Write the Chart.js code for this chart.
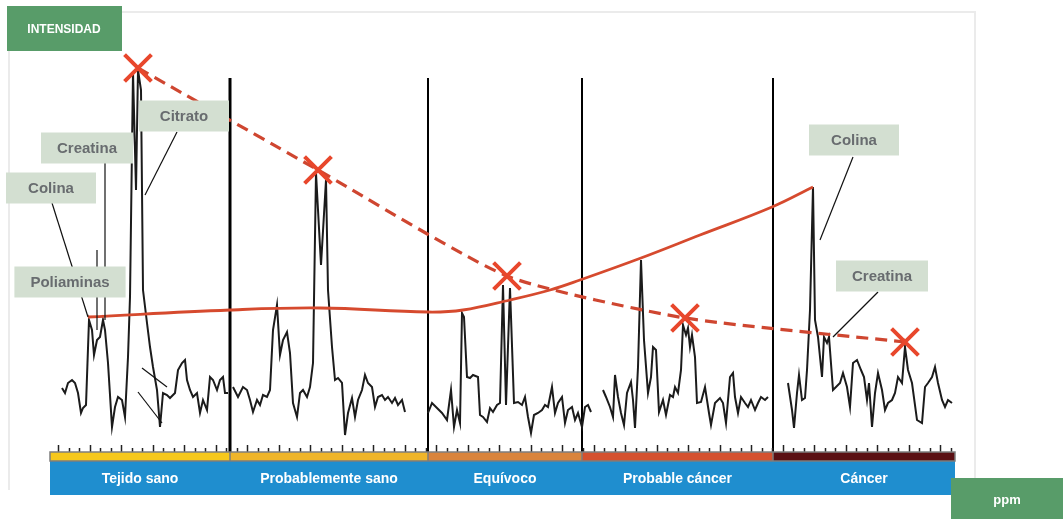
<!DOCTYPE html>
<html>
<head>
<meta charset="utf-8">
<script src="https://cdn.jsdelivr.net/npm/chart.js@4.4.1/dist/chart.umd.min.js"></script>
<style>
  html, body { margin: 0; padding: 0; background: #fff; }
  canvas { display: block; }
</style>
</head>
<body>
<canvas id="c" width="1063" height="519"></canvas>
<script>
// espectro: [posición, intensidad]
const tejidoSano = [[62,64],[65,59],[68,69],[72,72],[75,69],[78,59],[81,39],[83,44],[86,47],[89,132],[92,122],[94,97],[97,112],[100,115],[103,132],[105,122],[108,89],[112,25],[115,45],[118,55],[122,52],[125,35],[128,95],[130,155],[133,380],[136,262],[138,382],[141,362],[143,162],[147,129],[150,105],[153,85],[157,62],[160,25],[163,59],[167,57],[170,54],[175,59],[178,82],[182,89],[185,92],[187,72],[190,62],[193,55],[197,59],[200,39],[203,52],[207,42],[210,75],[213,72],[217,62],[220,72],[223,75],[225,59],[228,59]];
const probSano = [[233,65],[238,55],[243,65],[247,62],[250,52],[253,40],[257,52],[260,47],[263,57],[267,55],[270,62],[273,122],[277,147],[280,97],[283,112],[287,120],[290,99],[293,49],[297,35],[300,59],[303,62],[307,55],[310,65],[313,89],[316,279],[321,187],[326,272],[328,162],[332,105],[335,72],[338,74],[342,69],[345,17],[348,39],[352,54],[355,35],[358,52],[362,62],[365,77],[368,69],[372,65],[375,45],[378,55],[382,57],[385,52],[388,55],[392,49],[395,54],[398,47],[402,52],[405,40]];
const equivoco = [[428,39],[432,49],[437,44],[442,39],[447,32],[451,62],[454,25],[457,42],[460,29],[462,139],[464,135],[467,75],[470,74],[473,77],[478,75],[480,37],[483,35],[487,30],[490,44],[493,40],[497,47],[500,49],[503,167],[506,47],[510,164],[514,49],[518,50],[522,47],[525,55],[528,35],[531,19],[534,37],[538,39],[542,42],[545,47],[548,45],[552,65],[555,39],[558,49],[562,55],[565,29],[568,42],[572,45],[575,32],[578,39],[582,25],[585,45],[588,47],[591,40]];
const probCancer = [[603,62],[606,55],[610,45],[613,35],[615,77],[618,55],[621,39],[624,27],[627,59],[631,70],[633,52],[635,24],[638,85],[641,192],[644,112],[648,59],[651,75],[653,105],[656,102],[659,40],[663,52],[666,37],[670,57],[673,55],[675,65],[678,59],[681,82],[683,127],[686,117],[688,124],[690,105],[692,117],[695,95],[697,49],[701,50],[705,65],[709,39],[711,27],[715,49],[720,54],[723,49],[726,29],[730,75],[733,79],[735,55],[738,39],[741,55],[745,49],[748,45],[751,52],[755,42],[758,49],[761,55],[765,52],[768,55]];
const cancer = [[788,69],[792,42],[794,24],[797,59],[799,77],[802,52],[805,54],[807,82],[810,142],[813,265],[815,132],[818,115],[822,75],[824,115],[827,109],[829,115],[833,62],[836,65],[840,69],[843,79],[847,65],[850,45],[853,89],[857,92],[861,82],[864,75],[867,52],[869,69],[872,25],[875,59],[878,79],[882,62],[885,42],[888,49],[892,52],[895,59],[898,75],[902,69],[905,105],[908,82],[912,69],[917,32],[922,29],[925,65],[928,69],[932,75],[935,85],[938,69],[942,52],[945,45],[948,52],[952,49]];

// picos marcados con X (línea discontinua) y curva continua
const xPeaks = [[138,384],[318,282],[507,176],[685,134],[905,110]];
const curva = [[88,135],[230,142],[320,144],[428,140],[463,142],[510,152],[550,162],[580,172],[641,194],[700,217],[772,245],[813,265]];

// zonas
const zonas = ['Tejido sano', 'Probablemente sano', 'Equívoco', 'Probable cáncer', 'Cáncer'];
const zonaBordes = [50, 230, 428, 582, 773, 955];
const zonaColores = ['#f6c81c', '#efb52a', '#d9843c', '#d4512f', '#5a1013'];

// etiquetas: texto, centro, inicio y fin del puntero
const etiquetas = ['Colina', 'Creatina', 'Citrato', 'Poliaminas', 'Colina', 'Creatina'];
const etiquetaPos = [[51,264],[87,304],[184,336],[70,170],[854,312],[882,176]];
const punteros = [[[52,249],[88,135]], [[105,289],[105,132]], [[177,320],[145,257]], [[97,202],[97,122]], [[853,295],[820,212]], [[878,160],[833,115]]];
const marcasExtra = [[[142,84],[167,65]], [[138,60],[162,29]]];

const toPts = a => a.map(p => ({x: p[0], y: p[1]}));
let espectro = [];
[tejidoSano, probSano, equivoco, probCancer, cancer].forEach((seg, i) => {
    if (i > 0) espectro.push({x: seg[0][0] - 1, y: null});
    espectro = espectro.concat(toPts(seg));
});

const FONT = '"Liberation Sans", Arial, sans-serif';

const decor = {
    id: 'decor',
    beforeDraw(chart) {
        const ctx = chart.ctx;
        ctx.save();
        ctx.fillStyle = '#fff';
        ctx.fillRect(0, 0, chart.width, chart.height);
        // marco tenue
        ctx.strokeStyle = '#ebebeb'; ctx.lineWidth = 2;
        ctx.beginPath(); ctx.moveTo(9, 490); ctx.lineTo(9, 12); ctx.lineTo(975, 12); ctx.lineTo(975, 478); ctx.stroke();
        ctx.restore();
    },
    beforeDatasetsDraw(chart) {
        const {ctx, scales: {x, y}} = chart;
        ctx.save();
        // divisiones verticales
        ctx.strokeStyle = '#000';
        zonaBordes.slice(1, -1).forEach((b, i) => {
            ctx.lineWidth = i === 0 ? 3 : 2;
            ctx.beginPath(); ctx.moveTo(x.getPixelForValue(b), y.getPixelForValue(374)); ctx.lineTo(x.getPixelForValue(b), y.getPixelForValue(0)); ctx.stroke();
        });
        // marcas del eje
        ctx.lineWidth = 1.5; ctx.strokeStyle = '#222';
        let k = 0;
        for (let v = 58; v < 952; v += 10.5) {
            const px = Math.round(x.getPixelForValue(v)) + 0.5, h = (k % 3 === 0) ? 7 : 4;
            ctx.beginPath(); ctx.moveTo(px, y.getPixelForValue(0)); ctx.lineTo(px, y.getPixelForValue(0) - h); ctx.stroke();
            k++;
        }
        ctx.restore();
    },
    afterDatasetsDraw(chart) {
        const {ctx, scales: {x, y}} = chart;
        const P = p => [x.getPixelForValue(p[0]), y.getPixelForValue(p[1])];
        ctx.save();
        // punteros
        ctx.strokeStyle = '#111'; ctx.lineWidth = 1.2;
        punteros.concat(marcasExtra).forEach(l => {
            const a = P(l[0]), b = P(l[1]);
            ctx.beginPath(); ctx.moveTo(a[0], a[1]); ctx.lineTo(b[0], b[1]); ctx.stroke();
        });
        // cajas de etiquetas
        ctx.font = 'bold 15px ' + FONT;
        ctx.textAlign = 'center'; ctx.textBaseline = 'middle';
        etiquetas.forEach((t, i) => {
            const c = P(etiquetaPos[i]);
            const w = Math.max(90, ctx.measureText(t).width + 32), h = 31;
            ctx.fillStyle = '#d3dfd1';
            ctx.fillRect(c[0] - w / 2, c[1] - h / 2, w, h);
            ctx.fillStyle = '#686c6f';
            ctx.fillText(t, c[0], c[1] + 1);
        });
        // bandas de zonas
        const top = y.getPixelForValue(0);
        const x0 = x.getPixelForValue(zonaBordes[0]), x1 = x.getPixelForValue(zonaBordes[zonaBordes.length - 1]);
        ctx.fillStyle = '#1f8ecf';
        ctx.fillRect(x0, top + 9, x1 - x0, 34);
        zonas.forEach((z, i) => {
            const a = x.getPixelForValue(zonaBordes[i]), b = x.getPixelForValue(zonaBordes[i + 1]);
            ctx.fillStyle = zonaColores[i];
            ctx.fillRect(a, top, b - a, 9);
            ctx.fillStyle = '#fff';
            ctx.font = 'bold 14px ' + FONT;
            ctx.fillText(z, (a + b) / 2, top + 27);
        });
        ctx.strokeStyle = '#7d7d7d'; ctx.lineWidth = 1.5;
        ctx.strokeRect(x0, top, x1 - x0, 9);
        zonaBordes.slice(1, -1).forEach(b => {
            const px = x.getPixelForValue(b);
            ctx.beginPath(); ctx.moveTo(px, top); ctx.lineTo(px, top + 9); ctx.stroke();
        });
        // títulos de ejes
        ctx.fillStyle = '#589c69';
        ctx.fillRect(7, 6, 115, 45);
        ctx.fillRect(951, 478, 112, 41);
        ctx.fillStyle = '#fff';
        ctx.font = 'bold 12px ' + FONT;
        ctx.fillText('INTENSIDAD', 64, 30);
        ctx.font = 'bold 13px ' + FONT;
        ctx.fillText('ppm', 1007, 500);
        ctx.restore();
    }
};

new Chart(document.getElementById('c'), {
    type: 'line',
    data: {
        datasets: [
            { data: toPts(xPeaks), showLine: false, pointStyle: 'crossRot', pointRadius: 19, pointBorderWidth: 4, pointBorderColor: '#e8472c', clip: false, order: 0 },
            { data: toPts(xPeaks), borderColor: '#cf4630', borderWidth: 3.2, borderDash: [12, 7], tension: 0.2, pointRadius: 0, order: 1 },
            { data: toPts(curva), borderColor: '#d64a2e', borderWidth: 2.8, tension: 0.4, pointRadius: 0, order: 2 },
            { data: espectro, borderColor: '#1b1b1b', borderWidth: 2, tension: 0, pointRadius: 0, spanGaps: false, order: 3 }
        ]
    },
    options: {
        responsive: false,
        animation: false,
        layout: { padding: { left: 50, right: 108, top: 60, bottom: 67 } },
        scales: {
            x: { type: 'linear', min: 50, max: 955, display: false },
            y: { type: 'linear', min: 0, max: 392, display: false }
        },
        plugins: { legend: { display: false }, tooltip: { enabled: false } }
    },
    plugins: [decor]
});
</script>
</body>
</html>
